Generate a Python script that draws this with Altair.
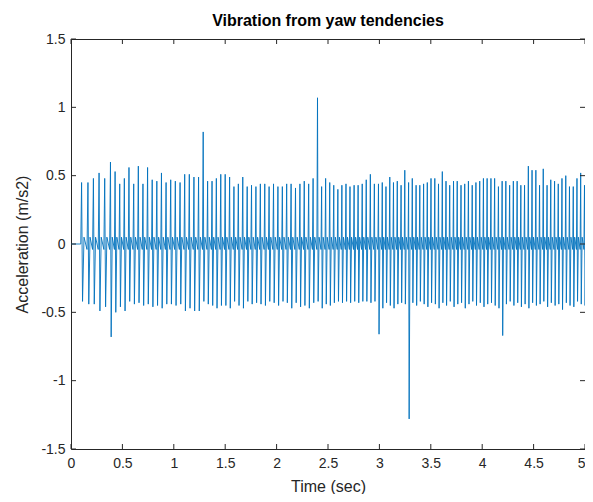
import altair as alt
import pandas as pd

# Peak times (s) of each vibration cycle
peak_t = [0.103, 0.165, 0.218, 0.273, 0.328, 0.384,
          0.429, 0.474, 0.519, 0.564, 0.610, 0.655, 0.700, 0.745, 0.790, 0.835,
          0.880, 0.925, 0.970, 1.015, 1.061, 1.106, 1.151, 1.196, 1.241, 1.286,
          1.329, 1.372, 1.414, 1.457, 1.500, 1.543, 1.585, 1.628, 1.671, 1.714,
          1.756, 1.799, 1.842, 1.885, 1.927, 1.970, 2.013, 2.056, 2.098, 2.141,
          2.184, 2.227, 2.269, 2.312, 2.355, 2.398,
          2.438, 2.477, 2.517, 2.556, 2.596, 2.635, 2.675, 2.714, 2.754, 2.793,
          2.833, 2.872, 2.912, 2.951, 2.991,
          3.028, 3.064, 3.101, 3.137, 3.174, 3.211, 3.247, 3.284,
          3.320, 3.357, 3.393, 3.430, 3.466, 3.502, 3.539, 3.575, 3.612, 3.648,
          3.684, 3.721, 3.757, 3.794, 3.830, 3.866, 3.903, 3.939, 3.976, 4.012,
          4.048, 4.085, 4.121, 4.158, 4.194,
          4.230, 4.267, 4.303, 4.340, 4.376, 4.412, 4.449, 4.485, 4.522, 4.558,
          4.594, 4.631, 4.667, 4.704, 4.740, 4.776, 4.813, 4.849, 4.886, 4.922,
          4.958, 4.995]

# Positive peak of each cycle (m/s2)
peak_v = [0.45, 0.45, 0.48, 0.52, 0.48, 0.60,
          0.53, 0.44, 0.48, 0.56, 0.44, 0.57, 0.44, 0.56, 0.47, 0.46, 0.52, 0.45,
          0.47, 0.46, 0.45, 0.51, 0.51, 0.49, 0.49,
          0.82,
          0.46, 0.46, 0.48, 0.51, 0.51,
          0.49, 0.42, 0.44, 0.49, 0.42, 0.43, 0.42, 0.44, 0.44, 0.42, 0.44, 0.42,
          0.42, 0.44, 0.44, 0.41, 0.44, 0.46, 0.44, 0.48,
          1.07,
          0.42, 0.48, 0.45, 0.43, 0.40, 0.43, 0.44, 0.42, 0.43, 0.43, 0.44, 0.47,
          0.51, 0.44, 0.44, 0.45, 0.42, 0.49, 0.45, 0.46, 0.43, 0.54, 0.45,
          0.48, 0.43, 0.43, 0.44, 0.45, 0.48, 0.48, 0.44, 0.53, 0.46, 0.43, 0.46,
          0.46, 0.43, 0.44, 0.46, 0.43, 0.45, 0.46, 0.48, 0.48, 0.48, 0.48, 0.42, 0.46,
          0.46, 0.43, 0.46, 0.46, 0.43, 0.43, 0.57, 0.54, 0.54, 0.43, 0.55, 0.43,
          0.47, 0.46, 0.44, 0.48, 0.50, 0.42, 0.42, 0.48, 0.52, 0.43]

# Negative trough of each cycle (m/s2)
trough_v = [-0.42, -0.44, -0.44, -0.49, -0.46, -0.68, -0.50, -0.46, -0.49, -0.42,
            -0.44, -0.43, -0.45, -0.44, -0.46, -0.45, -0.47, -0.44, -0.44, -0.45,
            -0.44, -0.49, -0.47, -0.49, -0.49, -0.42, -0.44, -0.45, -0.47, -0.45, -0.45,
            -0.47, -0.42, -0.45, -0.47, -0.42, -0.44, -0.43, -0.44, -0.45, -0.42,
            -0.43, -0.45, -0.42, -0.43, -0.47, -0.43, -0.46, -0.45, -0.47, -0.43,
            -0.42,
            -0.47, -0.44, -0.45, -0.43, -0.42, -0.43, -0.42, -0.43, -0.42, -0.43,
            -0.42, -0.42, -0.43, -0.42, -0.66, -0.47, -0.43, -0.45, -0.47, -0.44,
            -0.43, -0.44, -1.28,
            -0.43, -0.45, -0.42, -0.44, -0.46, -0.43, -0.44, -0.47, -0.43, -0.45,
            -0.42, -0.46, -0.44, -0.43, -0.47, -0.44, -0.42, -0.45, -0.43, -0.46,
            -0.44, -0.43, -0.45, -0.47, -0.67,
            -0.44, -0.42, -0.45, -0.43, -0.46, -0.44, -0.47, -0.43, -0.45, -0.44,
            -0.42, -0.46, -0.43, -0.45, -0.44, -0.48, -0.43, -0.45, -0.46, -0.42,
            -0.44, -0.45]

ring_hi = 0.05
ring_lo = -0.04
x_ticks = [0, 0.5, 1, 1.5, 2, 2.5, 3, 3.5, 4, 4.5, 5]
y_ticks = [-1.5, -1, -0.5, 0, 0.5, 1, 1.5]

rows = [(0.0, 0.0), (0.095, 0.0)]
n = min(len(peak_t), len(peak_v), len(trough_v))
for i in range(n):
    t0 = peak_t[i]
    P = (peak_t[i + 1] - t0) if i + 1 < n else (t0 - peak_t[i - 1])
    rows.append((t0, peak_v[i]))
    rows.append((t0 + 0.15 * P, trough_v[i]))
    rows.append((t0 + 0.38 * P, ring_hi))
    rows.append((t0 + 0.85 * P, ring_lo))
df = pd.DataFrame(rows, columns=["t", "a"])

W, H = 514, 410
AX = "#262626"
FONT = "Liberation Sans"

xscale = alt.Scale(domain=[0, 5], nice=False, zero=False)
yscale = alt.Scale(domain=[-1.5, 1.5], nice=False, zero=False)

line = alt.Chart(df).mark_line(color="#0072BD", strokeWidth=0.9, clip=True).encode(
    x=alt.X("t:Q", scale=xscale,
            axis=alt.Axis(values=x_ticks, title="Time (sec)", labelExpr="datum.value + ''",
                          ticks=False, tickSize=0, domain=False, grid=False,
                          labelAlign={"condition": {"test": "datum.value == 5", "value": "right"},
                                      "value": "center"},
                          labelPadding=7, titlePadding=8, labelFlush=False)),
    y=alt.Y("a:Q", scale=yscale,
            axis=alt.Axis(values=y_ticks, title="Acceleration (m/s2)", labelExpr="datum.value + ''",
                          ticks=False, tickSize=0, domain=False, grid=False,
                          labelPadding=6, titlePadding=10, labelFlush=False)),
)

xt_df = pd.DataFrame({"t": x_ticks})
yt_df = pd.DataFrame({"a": y_ticks})
tick_len = 5

xt_bot = alt.Chart(xt_df).mark_rule(color=AX, strokeWidth=1).encode(
    x=alt.X("t:Q", scale=xscale), y=alt.value(H), y2=alt.value(H - tick_len))
xt_top = alt.Chart(xt_df).mark_rule(color=AX, strokeWidth=1).encode(
    x=alt.X("t:Q", scale=xscale), y=alt.value(0), y2=alt.value(tick_len))
yt_left = alt.Chart(yt_df).mark_rule(color=AX, strokeWidth=1).encode(
    y=alt.Y("a:Q", scale=yscale), x=alt.value(0), x2=alt.value(tick_len))
yt_right = alt.Chart(yt_df).mark_rule(color=AX, strokeWidth=1).encode(
    y=alt.Y("a:Q", scale=yscale), x=alt.value(W), x2=alt.value(W - tick_len))

chart = alt.layer(line, xt_bot, xt_top, yt_left, yt_right).properties(
    width=W, height=H,
    background="white",
    title=alt.TitleParams("Vibration from yaw tendencies", fontSize=16, fontWeight="bold",
                          font=FONT, color="#000000", offset=3, anchor="middle"),
    autosize=alt.AutoSizeParams(type="none"),
    padding={"left": 63, "top": 31, "right": 0, "bottom": 45},
).configure_view(
    stroke=AX, strokeWidth=1
).configure_axis(
    labelFont=FONT, labelFontSize=14, labelColor=AX,
    titleFont=FONT, titleFontSize=16, titleFontWeight="normal", titleColor=AX,
)

chart.save("out.html", embed_options={"renderer": "svg", "actions": False})
